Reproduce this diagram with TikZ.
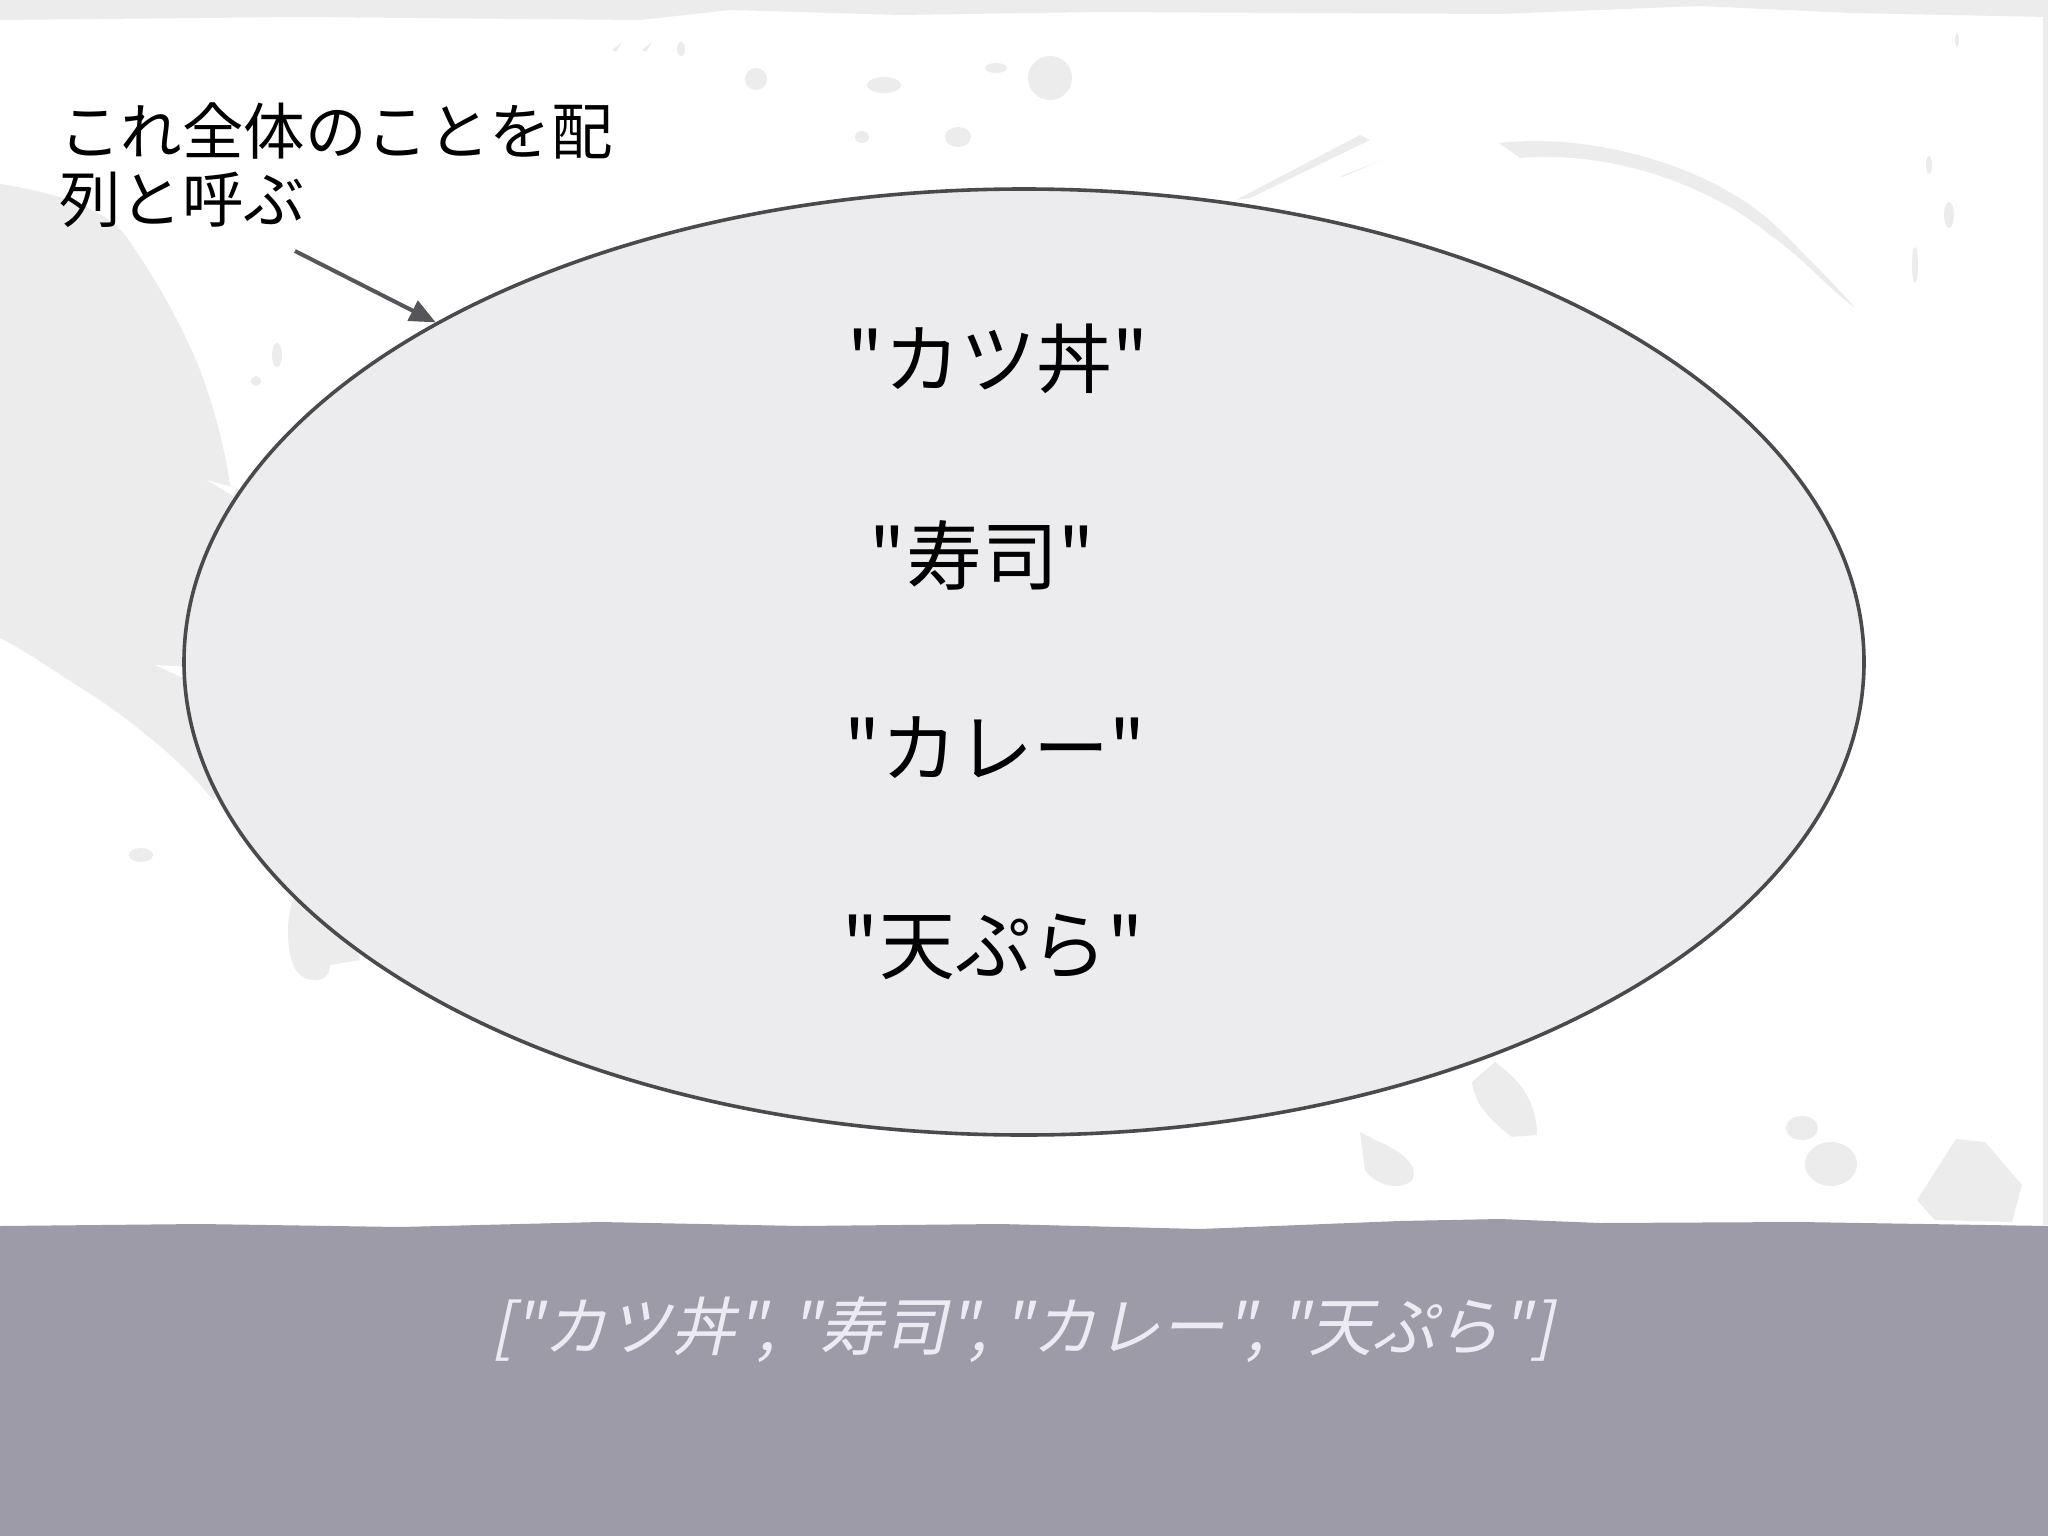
\documentclass[tikz,border=0pt]{standalone}
\usepackage{fontspec}
\usetikzlibrary{shapes.geometric,arrows.meta}
\newfontfamily\jp{Noto Sans CJK JP}
\newfontfamily\jpit[FakeSlant=0.22]{Noto Sans CJK JP}
\definecolor{bgstroke}{HTML}{ECECED}
\definecolor{ellfill}{HTML}{ECECEE}
\definecolor{ellline}{HTML}{4A4A4C}
\definecolor{band}{HTML}{9C9BA7}
\definecolor{bandtext}{HTML}{ECEAF2}
\definecolor{arrowc}{HTML}{55555A}
\tikzset{
  deco/.style={fill=bgstroke, draw=none},
  item/.style={font=\jp\fontsize{76}{90}\selectfont, text=black, inner sep=0pt},
  callout/.style={font=\jp\fontsize{61.5}{68}\selectfont, text=black, inner sep=0pt, align=left},
  arrayell/.style={ellipse, draw=ellline, line width=3.6pt, fill=ellfill, minimum width=1680pt, minimum height=946pt, inner sep=0pt},
  pointer/.style={draw=arrowc, line width=4pt, -{Triangle[length=26pt,width=22pt]}},
}
\begin{document}
\begin{tikzpicture}[x=1pt,y=-1pt]
\useasboundingbox (0,0) rectangle (2048,1536);
\fill[white] (0,0) rectangle (2048,1536);
% top band
\fill[bgstroke] (0,0) -- (2048,0) -- (2048,17) -- (1850,13) -- (1700,6) -- (1500,14) -- (1300,13) -- (1100,12) -- (900,15) -- (730,10) -- (640,20) -- (300,17) -- (0,20) -- cycle;
% right strip
\fill[bgstroke] (2043,17) rectangle (2048,1225);
% left brush region
\fill[deco] (0,184) .. controls (50,192) and (100,205) .. (125,235) .. controls (150,270) and (180,320) .. (200,370) .. controls (215,410) and (225,450) .. (230,485) -- (300,520) -- (300,700) -- (213,800) .. controls (190,770) and (150,735) .. (100,700) .. controls (60,675) and (25,650) .. (0,638) -- cycle;
\fill[white] (207,480) -- (236,488) -- (233,496) -- cycle;
\fill[white] (155,665) -- (192,667) -- (192,682) -- cycle;
\fill[deco] (300,890) .. controls (285,900) and (283,960) .. (300,975) .. controls (315,985) and (330,980) .. (330,965) -- (360,960) -- (340,900) -- cycle;
\fill[deco] (141,855) ellipse (12pt and 7pt);
\fill[deco] (277,355) ellipse (5pt and 12pt);
\fill[deco] (256,381) ellipse (5pt and 5pt);
% top spots
\fill[deco] (756,79) ellipse (11pt and 11pt);
\fill[deco] (884,85) ellipse (17pt and 8pt);
\fill[deco] (996,68) ellipse (11pt and 5pt);
\fill[deco] (1050,78) ellipse (22pt and 22pt);
\fill[deco] (862,137) ellipse (7pt and 6pt);
\fill[deco] (958,137) ellipse (13pt and 10pt);
\fill[deco] (681,49) ellipse (4pt and 7pt);
\fill[deco] (612,50) -- (622,42) -- (616,52) -- cycle;
\fill[deco] (642,50) -- (652,42) -- (646,52) -- cycle;
% top right strokes
\fill[deco] (1236,200) -- (1360,135) -- (1370,140) -- (1250,198) -- cycle;
\fill[deco] (1339,177) -- (1382,160) -- (1345,176) -- cycle;
\fill[deco] (1499,143) .. controls (1600,132) and (1720,170) .. (1780,230) .. controls (1815,265) and (1840,290) .. (1854,307) .. controls (1830,290) and (1800,255) .. (1770,235) .. controls (1710,185) and (1610,150) .. (1520,158) -- cycle;
\fill[deco] (1929,165) ellipse (3pt and 9pt);
\fill[deco] (1949,215) ellipse (5pt and 13pt);
\fill[deco] (1915,265) ellipse (3pt and 18pt);
\fill[deco] (1957,40) ellipse (2pt and 7pt);
% bottom spots
\fill[deco] (1360,1132) -- (1375,1140) .. controls (1400,1150) and (1420,1165) .. (1412,1180) .. controls (1400,1192) and (1375,1185) .. (1365,1170) -- cycle;
\fill[deco] (1472,1082) -- (1495,1062) -- (1505,1070) .. controls (1530,1090) and (1537,1115) .. (1537,1135) -- (1512,1137) .. controls (1490,1120) and (1475,1105) .. (1472,1082) -- cycle;
\fill[deco] (1802,1128) ellipse (16pt and 12pt);
\fill[deco] (1831,1164) ellipse (26pt and 22pt);
\fill[deco] (1956,1139) -- (1985,1142) -- (2022,1185) -- (2012,1222) -- (1935,1220) -- (1917,1200) -- cycle;
% bottom band
\fill[band] (0,1226) -- (200,1224) -- (400,1227) -- (600,1222) -- (800,1226) -- (1000,1224) -- (1200,1229) -- (1400,1221) -- (1500,1219) -- (1600,1223) -- (1800,1222) -- (2048,1226) -- (2048,1536) -- (0,1536) -- cycle;

% main diagram
\node[arrayell] (arr) at (1024,662) {};
\node[item] (katsu) at (998,359) {"カツ丼"};
\node[item] (sushi) at (982,555) {"寿司"};
\node[item] (curry) at (995,748) {"カレー"};
\node[item] (tempura) at (993,947) {"天ぷら"};

\node[callout, anchor=west] (lbl) at (59,165) {これ全体のことを配\\列と呼ぶ};
\coordinate (ptrstart) at (295,251);
\draw[pointer] (ptrstart) -- (arr.150.7);

\node[font=\jpit\fontsize{64}{70}\selectfont, text=bandtext, inner sep=0pt] (code) at (1022,1330) {["カツ丼", "寿司", "カレー", "天ぷら"]};
\end{tikzpicture}
\end{document}
